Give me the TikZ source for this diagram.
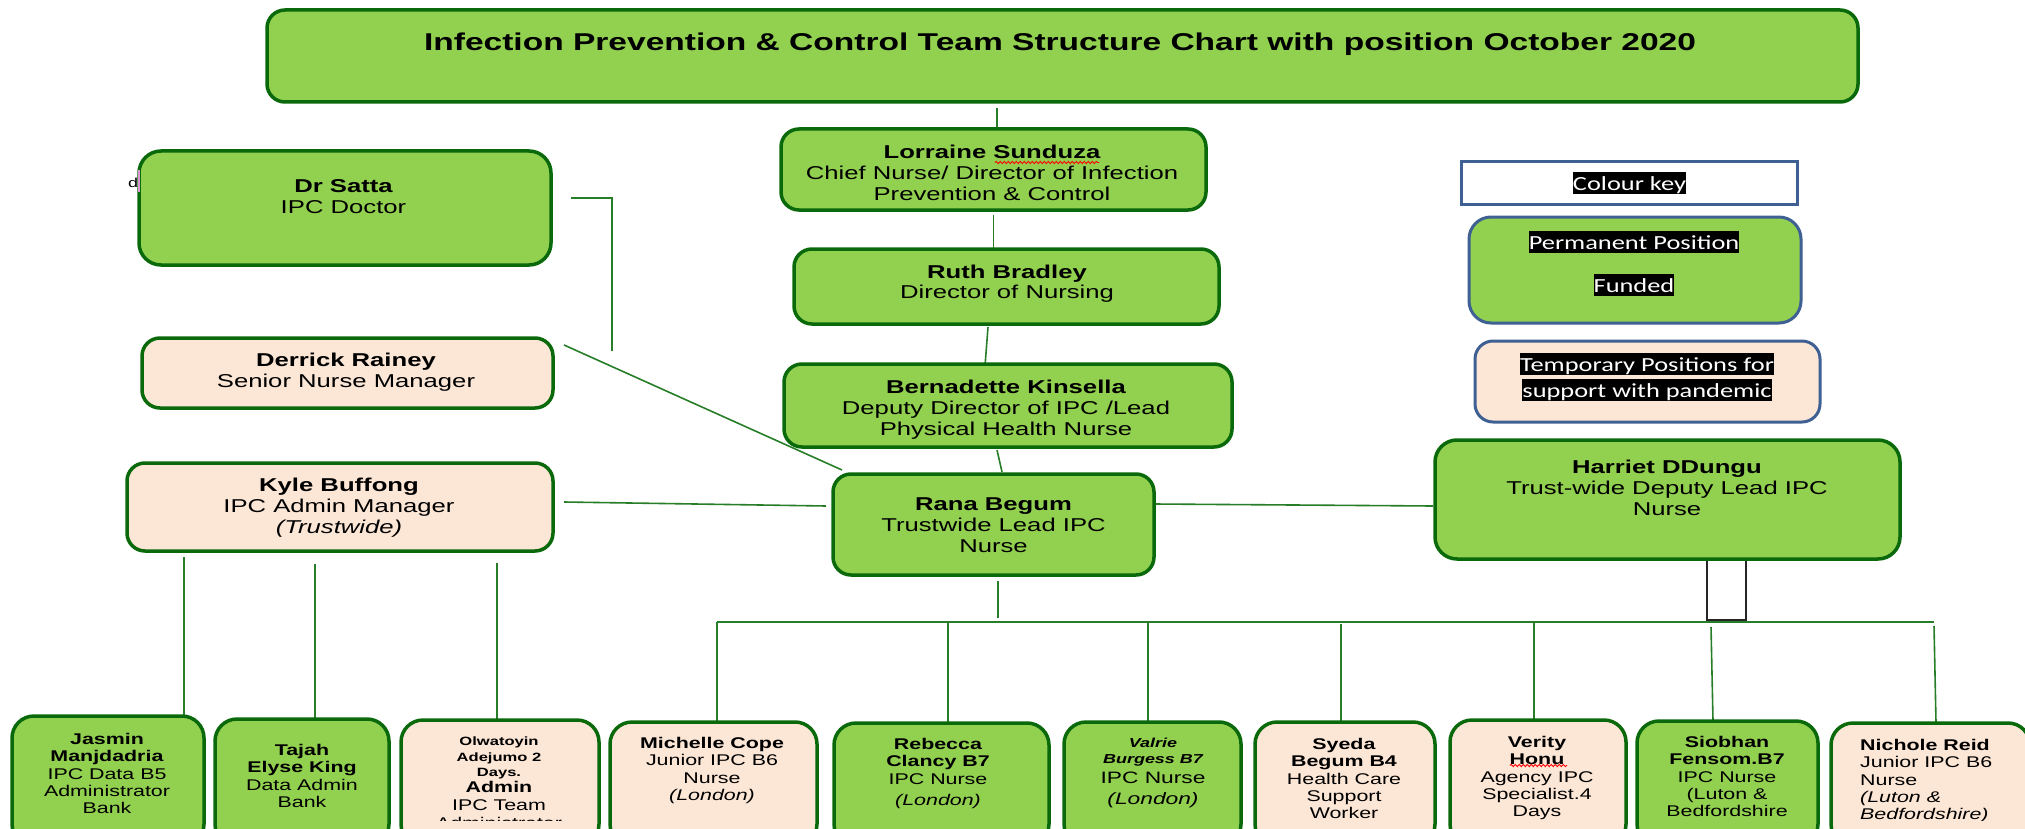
\documentclass[tikz,border=0pt]{standalone}
\usepackage{fontspec}
\setmainfont{Liberation Sans}[FakeStretch=1.38]
\newfontfamily\keyfont{Carlito}[FakeStretch=1.32]
\usetikzlibrary{calc,decorations.pathmorphing}
\definecolor{fillgreen}{RGB}{146,208,80}
\definecolor{linegreen}{RGB}{10,105,10}
\definecolor{conngreen}{RGB}{40,125,40}
\definecolor{peach}{RGB}{252,230,214}
\definecolor{keyblue}{RGB}{62,96,146}
\definecolor{cursorpink}{RGB}{220,150,210}
\newcommand{\ctab}[1]{\begin{tabular}[t]{@{}c@{}}#1\end{tabular}}
\newcommand{\ltab}[1]{\begin{tabular}[t]{@{}l@{}}#1\end{tabular}}
\pgfdeclarelayer{bg}
\pgfsetlayers{bg,main}
\tikzset{
  gbox/.style={draw=linegreen, fill=fillgreen, line width=3.5pt, rounded corners=18pt, inner sep=0pt, outer sep=0pt},
  pbox/.style={draw=linegreen, fill=peach, line width=3.5pt, rounded corners=18pt, inner sep=0pt, outer sep=0pt},
  bgbox/.style={gbox, rounded corners=22pt},
  bpbox/.style={pbox, rounded corners=22pt},
  keybox/.style={draw=keyblue, line width=3pt, inner sep=0pt, outer sep=0pt},
  conn/.style={draw=conngreen, line width=1.6pt},
  hlink/.style={draw=black!85, line width=1.8pt, fill=white},
  ttl/.style={font=\bfseries\fontsize{24.3}{28}\selectfont, inner sep=0pt, anchor=base},
  mtxt/.style={font=\fontsize{18.6}{21}\selectfont, inner sep=0pt, anchor=base},
  btxt/.style={font=\fontsize{15.5}{17.3}\selectfont, inner sep=0pt, anchor=base},
  hl/.style={fill=black, text=white, font=\keyfont\fontsize{20}{24}\selectfont, inner xsep=0pt, inner ysep=0pt, text height=18pt, text depth=4pt, anchor=base},
  squiggle/.style={draw=red, line width=0.9pt, decorate, decoration={snake, amplitude=1.1pt, segment length=4pt}}
}
\begin{document}
\begin{tikzpicture}[x=1pt, y=-1pt]
\useasboundingbox (0,0) rectangle (2025,829);
\clip (0,0) rectangle (2025,829);

% stray glyph behind Dr Satta box
\node[font=\fontsize{13}{15}\selectfont, inner sep=0pt, anchor=base west] (stray) at (128,187) {d};

% ---------- top boxes (text nodes anchored at the baseline of their first line) ----------
\node[gbox, minimum width=1591pt, minimum height=92pt] (title) at (1062.5,56) {};
\node[ttl] (title-t) at (1060,51) {Infection Prevention \& Control Team Structure Chart with position October 2020};

\node[gbox, minimum width=425pt, minimum height=81pt] (lorraine) at (993.5,169.5) {};
\node[mtxt] (lorraine-t) at (992,158.7) {\ctab{{\bfseries Lorraine Sunduza}\\Chief Nurse/ Director of Infection\\Prevention \& Control}};

\node[gbox, minimum width=425pt, minimum height=75pt] (ruth) at (1006.5,286.5) {};
\node[mtxt] (ruth-t) at (1007,278.7) {\ctab{{\bfseries Ruth Bradley}\\[-1.7pt]Director of Nursing}};

\node[gbox, minimum width=448pt, minimum height=83pt] (bern) at (1008,405.5) {};
\node[mtxt] (bern-t) at (1006,393.4) {\ctab{{\bfseries Bernadette Kinsella}\\Deputy Director of IPC /Lead\\Physical Health Nurse}};

\node[gbox, minimum width=321pt, minimum height=101pt] (rana) at (993.5,524.5) {};
\node[mtxt] (rana-t) at (993.5,510) {\ctab{{\bfseries Rana Begum}\\Trustwide Lead IPC\\Nurse}};

\node[gbox, rounded corners=22pt, minimum width=465pt, minimum height=119pt] (harriet) at (1667.5,499.5) {};
\node[mtxt] (harriet-t) at (1667,473.7) {\ctab{{\bfseries Harriet DDungu}\\Trust-wide Deputy Lead IPC\\Nurse}};

\node[gbox, rounded corners=22pt, minimum width=412pt, minimum height=114pt] (satta) at (345,208) {};
\node[mtxt] (satta-t) at (343.5,192.7) {\ctab{{\bfseries Dr Satta}\\IPC Doctor}};

\node[pbox, minimum width=411pt, minimum height=70pt] (derrick) at (347.5,373) {};
\node[mtxt] (derrick-t) at (346,366.7) {\ctab{{\bfseries Derrick Rainey}\\Senior Nurse Manager}};

\node[pbox, minimum width=426pt, minimum height=88pt] (kyle) at (340,507) {};
\node[mtxt] (kyle-t) at (339,491.7) {\ctab{{\bfseries Kyle Buffong}\\IPC Admin Manager\\\textit{(Trustwide)}}};

\draw[cursorpink, line width=1.2pt] (satta.west |- 0,170) -- (satta.west |- 0,192);

% ---------- legend ----------
\node[keybox, fill=white, minimum width=336pt, minimum height=42pt] (keyhead) at (1629,183) {};
\node[hl] (keyhead-t) at (1629.5,190) {Colour key};
\node[keybox, fill=fillgreen, rounded corners=22pt, minimum width=332pt, minimum height=106pt] (keyperm) at (1635,270) {};
\node[hl] (keyperm-a) at (1634,249) {Permanent Position};
\node[hl] (keyperm-b) at (1634,292) {Funded};
\node[keybox, fill=peach, rounded corners=18pt, minimum width=345pt, minimum height=81pt] (keytemp) at (1647.5,381.5) {};
\node[hl] (keytemp-a) at (1647,371) {Temporary Positions for};
\node[hl] (keytemp-b) at (1647,397) {support with pandemic};

% ---------- bottom boxes ----------
\node[bgbox, minimum width=192pt, minimum height=130pt] (jasmin) at (108,781) {};
\node[bgbox, minimum width=174pt, minimum height=127pt] (tajah) at (302,782.5) {};
\node[bpbox, minimum width=198pt, minimum height=126pt] (olwa) at (500,783) {};
\node[bpbox, minimum width=207pt, minimum height=124pt] (michelle) at (713.5,784) {};
\node[bgbox, minimum width=215pt, minimum height=123pt] (rebecca) at (941.5,784.5) {};
\node[bgbox, minimum width=177pt, minimum height=124pt] (valrie) at (1152.5,784) {};
\node[bpbox, minimum width=180pt, minimum height=124pt] (syeda) at (1345,784) {};
\node[bpbox, minimum width=176pt, minimum height=126pt] (verity) at (1538,783) {};
\node[bgbox, minimum width=181pt, minimum height=125pt] (siobhan) at (1727.5,783.5) {};
\node[bpbox, minimum width=199pt, minimum height=123pt] (nichole) at (1930.5,784.5) {};

\begin{scope}
\clip (0,0) rectangle (2025,820);
\node[btxt] (jasmin-t) at (107,744.5) {\ctab{\textbf{Jasmin}\\\textbf{Manjdadria}\\IPC Data B5\\Administrator\\Bank}};
\node[btxt] (tajah-t) at (302,755.5) {\ctab{\textbf{Tajah}\\\textbf{Elyse King}\\Data Admin\\Bank}};
\node[btxt, font=\bfseries\fontsize{12}{15.5}\selectfont] (olwa-t) at (499,745.5) {\ctab{Olwatoyin\\Adejumo 2\\Days.\\{\fontsize{15.5}{17.5}\selectfont Admin}\\[2.5pt]{\mdseries\fontsize{15.5}{17.5}\selectfont IPC Team}\\[2pt]{\mdseries\fontsize{15.5}{17.5}\selectfont Administrator}}};
\node[btxt] (michelle-t) at (712,748.5) {\ctab{\textbf{Michelle Cope}\\Junior IPC B6\\Nurse\\\textit{(London)}}};
\node[btxt] (rebecca-t) at (938,749.5) {\ctab{\textbf{Rebecca}\\\textbf{Clancy B7}\\IPC Nurse\\[4pt]\textit{(London)}}};
\node[btxt, font=\fontsize{16.5}{16}\selectfont] (valrie-t) at (1153,747.7) {\ctab{{\bfseries\itshape\fontsize{13}{16}\selectfont Valrie}\\{\bfseries\itshape\fontsize{13}{16}\selectfont Burgess B7}\\[3.3pt]IPC Nurse\\[4pt]\textit{(London)}}};
\node[btxt] (syeda-t) at (1344,749.5) {\ctab{\textbf{Syeda}\\\textbf{Begum B4}\\Health Care\\Support\\Worker}};
\node[btxt] (verity-t) at (1537,747.5) {\ctab{\textbf{Verity}\\\textbf{Honu}\\Agency IPC\\Specialist.4\\Days}};
\node[btxt] (siobhan-t) at (1727,747.5) {\ctab{\textbf{Siobhan}\\\textbf{Fensom.B7}\\IPC Nurse\\(Luton \&\\Bedfordshire}};
\node[btxt, anchor=base west] (nichole-t) at (1860,750.5) {\ltab{\textbf{Nichole Reid}\\Junior IPC B6\\Nurse\\\textit{(Luton \&}\\\textit{Bedfordshire)}}};
\end{scope}

% spelling squiggles
\draw[squiggle] (995,162.5) -- (1099,162.5);
\draw[squiggle] (1510,765.5) -- (1567,765.5);

% ---------- connectors ----------
\begin{pgfonlayer}{bg}
\draw[conn] ($(title.south -| 997,0)+(0,6)$) -- (lorraine.north -| 997,0);
\draw[conn] ($(lorraine.south)+(0,5)$) -- (lorraine.south |- ruth.north);
\draw[conn] ($(ruth.south)+(-18.5,3)$) -- ($(bern.north)+(-23,2)$);
\draw[conn] ($(bern.south)+(-11,3)$) -- ($(rana.north)+(8.5,-2)$);
\draw[conn] ($(kyle.east)+(11,-5)$) -- ($(rana.west)+(-7,-18.5)$);
\draw[conn] ($(rana.east)+(0,-20.5)$) -- ($(harriet.west)+(-2,6.5)$);
\draw[conn] ($(derrick.north east)+(11,7)$) -- ($(rana.north west)+(9,-4)$);
\coordinate (sattaend) at (612,351);
\draw[conn] ($(satta.east)+(20,-10)$) -| (sattaend);
\coordinate (busL) at (717,622);
\coordinate (busR) at (1934,622);
\draw[conn] ($(rana.south)+(4.5,6)$) -- ($(rana.south)+(4.5,43)$);
\draw[hlink] (harriet.south -| 1707,0) rectangle ($(busR -| 1746,0)+(0,-2)$);
\draw[conn] (busL) -- (busR);
\draw[conn] (busL) -- (busL |- michelle.north);
\draw[conn] (busL -| 948,0) -- ($(rebecca.north -| 948,0)+(0,4)$);
\draw[conn] (busL -| 1148,0) -- (valrie.north -| 1148,0);
\draw[conn] ($(busL -| 1341,0)+(0,2)$) -- (syeda.north -| 1341,0);
\draw[conn] (busL -| 1534,0) -- (verity.north -| 1534,0);
\draw[conn] ($(busL -| 1711,0)+(0,5)$) -- (siobhan.north -| 1713,0);
\draw[conn] ($(busR)+(0,4)$) -- (nichole.north -| 1936,0);
\draw[conn] ($(kyle.south -| 184,0)+(0,6)$) -- (jasmin.north -| 184,0);
\draw[conn] ($(kyle.south -| 315,0)+(0,13)$) -- (tajah.north -| 315,0);
\draw[conn] ($(kyle.south -| 497,0)+(0,12)$) -- (olwa.north -| 497,0);
\end{pgfonlayer}
\end{tikzpicture}
\end{document}
